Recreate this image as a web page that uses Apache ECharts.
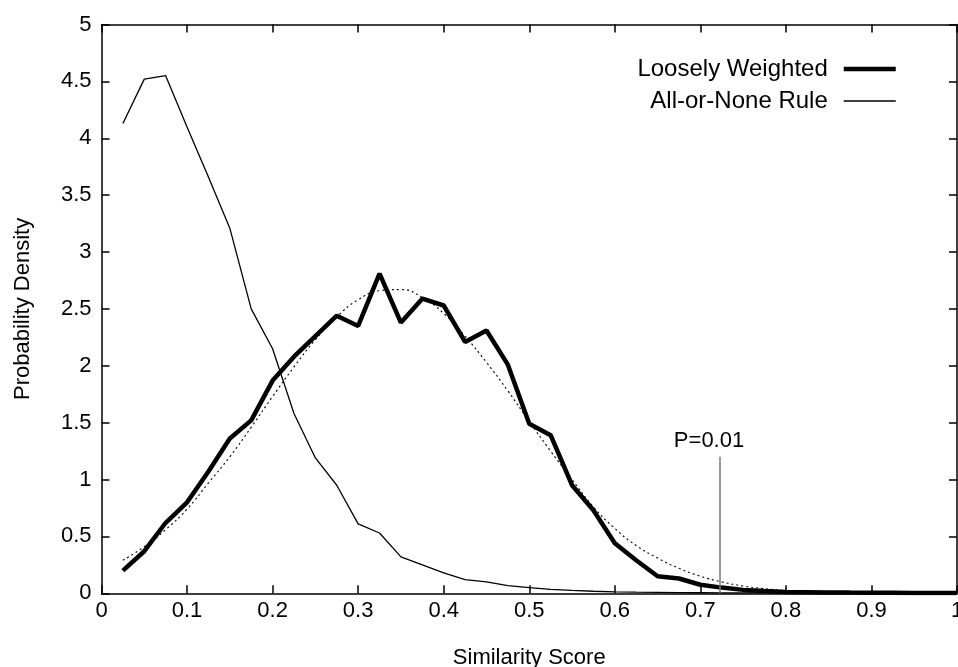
<!DOCTYPE html>
<html>
  <head>
    <meta charset="utf-8">
    <title>Similarity score density</title>
    <script src="https://cdn.jsdelivr.net/npm/echarts@6/dist/echarts.min.js"></script>
    <style>
      body { margin: 0; background: #fff; }
    </style>
  </head>
  <body>
    <div id="main" style="width:958px;height:667px;"></div>
    <script>
// scores on the x axis (bin centres)
var scores = [0.025, 0.05, 0.075, 0.1, 0.125, 0.15, 0.175, 0.2, 0.225, 0.25,
  0.275, 0.3, 0.325, 0.35, 0.375, 0.4, 0.425, 0.45, 0.475, 0.5,
  0.525, 0.55, 0.575, 0.6, 0.625, 0.65, 0.675, 0.7, 0.725, 0.75,
  0.775, 0.8, 0.825, 0.85, 0.875, 0.9, 0.925, 0.95, 0.975, 1.0];

// Loosely Weighted (thick line)
var loosely = [0.20, 0.37, 0.62, 0.80, 1.07, 1.36, 1.52, 1.87, 2.08, 2.26,
  2.44, 2.35, 2.81, 2.38, 2.59, 2.53, 2.21, 2.31, 2.01, 1.49,
  1.39, 0.95, 0.73, 0.44, 0.29, 0.15, 0.13, 0.075, 0.05, 0.03,
  0.02, 0.012, 0.01, 0.008, 0.006, 0.005, 0.004, 0.003, 0.002, 0.002];

// All-or-None Rule (thin line)
var allOrNone = [4.13, 4.52, 4.55, 4.10, 3.66, 3.21, 2.50, 2.15, 1.58, 1.19,
  0.95, 0.61, 0.53, 0.32, 0.25, 0.18, 0.12, 0.10, 0.067, 0.05,
  0.035, 0.025, 0.018, 0.013, 0.01, 0.008, 0.006, 0.005, 0.004, 0.003,
  0.003, 0.002, 0.002, 0.001, 0.001, 0.001, 0.001, 0.001, 0.001, 0.001];

// fitted curve (dotted)
var fitScores = [0.025, 0.05, 0.075, 0.1, 0.125, 0.15, 0.175, 0.2, 0.225, 0.25,
  0.275, 0.3, 0.325, 0.35, 0.375, 0.4, 0.425, 0.45, 0.475, 0.5,
  0.525, 0.55, 0.575, 0.6, 0.625, 0.65, 0.675, 0.7, 0.725, 0.75,
  0.775, 0.8, 0.825, 0.85, 0.875, 0.9];
var fitted = [0.29, 0.41, 0.56, 0.74, 0.97, 1.20, 1.46, 1.73, 1.99, 2.23,
  2.43, 2.58, 2.66, 2.67, 2.60, 2.46, 2.26, 2.03, 1.78, 1.51,
  1.25, 1.00, 0.76, 0.57, 0.42, 0.31, 0.22, 0.15, 0.10, 0.064,
  0.04, 0.024, 0.014, 0.008, 0.005, 0.003];

// P=0.01 threshold
var pScore = 0.723;
var pTop = 1.2;

var xTicks = ['0', '0.1', '0.2', '0.3', '0.4', '0.5', '0.6', '0.7', '0.8', '0.9', '1'];

function pairs(xs, ys) {
  return xs.map(function (x, i) { return [x, ys[i]]; });
}

var font = 'Liberation Sans, Arial, Helvetica, sans-serif';
var myChart = echarts.init(document.getElementById('main'));

var axisLine = { show: true, onZero: false, lineStyle: { color: '#000', width: 1.5 } };
var tick = { show: true, inside: true, length: 8, lineStyle: { color: '#000', width: 1.5 } };

myChart.setOption({
  animation: false,
  textStyle: { fontFamily: font },
  grid: { left: 101.5, right: 1, top: 24.5, bottom: 73.7, outerBoundsMode: 'none', containLabel: false },
  legend: {
    orient: 'vertical',
    right: 55,
    top: 52,
    align: 'right',
    itemWidth: 52,
    itemHeight: 14,
    itemGap: 8,
    itemStyle: { opacity: 0 },
    textStyle: { fontSize: 24, color: '#000', fontFamily: font, padding: [0, 11, 0, 0] },
    data: [
      { name: 'Loosely Weighted', lineStyle: { width: 4.5, color: '#000' } },
      { name: 'All-or-None Rule', lineStyle: { width: 1.3, color: '#000' } }
    ]
  },
  xAxis: [{
    type: 'value', min: 0, max: 1, interval: 0.1,
    name: 'Similarity Score', nameLocation: 'middle', nameGap: 54,
    nameTextStyle: { fontSize: 22, color: '#000', fontFamily: font },
    axisLine: axisLine, axisTick: tick, splitLine: { show: false },
    axisLabel: {
      fontSize: 22, color: '#000', margin: 7, hideOverlap: false,
      formatter: function (v) { return xTicks[Math.round(v * 10)]; }
    }
  }, {
    type: 'value', position: 'top', min: 0, max: 1, interval: 0.1,
    axisLine: axisLine, axisTick: tick, splitLine: { show: false },
    axisLabel: { show: false }
  }],
  yAxis: [{
    type: 'value', min: 0, max: 5, interval: 0.5,
    name: 'Probability Density', nameLocation: 'middle', nameGap: 68,
    nameTextStyle: { fontSize: 22, color: '#000', fontFamily: font },
    axisLine: axisLine, axisTick: tick, splitLine: { show: false },
    axisLabel: { fontSize: 22, color: '#000', margin: 10 }
  }, {
    type: 'value', position: 'right', min: 0, max: 5, interval: 0.5,
    axisLine: axisLine, axisTick: tick, splitLine: { show: false },
    axisLabel: { show: false }
  }],
  series: [{
    name: 'fit',
    type: 'line',
    symbol: 'none',
    smooth: true,
    data: pairs(fitScores, fitted),
    lineStyle: { color: '#111', width: 1.2, type: [2, 3] },
    markLine: {
      silent: true,
      symbol: ['none', 'none'],
      lineStyle: { color: '#777', width: 1.5, type: 'solid' },
      label: {
        show: true, position: 'end', formatter: 'P=0.01',
        fontSize: 22, color: '#000', fontFamily: font,
        padding: [0, 22, 0, 0]
      },
      data: [[{ coord: [pScore, 0] }, { coord: [pScore, pTop] }]]
    }
  }, {
    name: 'All-or-None Rule',
    type: 'line',
    symbol: 'none',
    data: pairs(scores, allOrNone),
    lineStyle: { color: '#000', width: 1.3 }
  }, {
    name: 'Loosely Weighted',
    type: 'line',
    symbol: 'none',
    data: pairs(scores, loosely),
    lineStyle: { color: '#000', width: 4.5 }
  }]
});
    </script>
  </body>
</html>
